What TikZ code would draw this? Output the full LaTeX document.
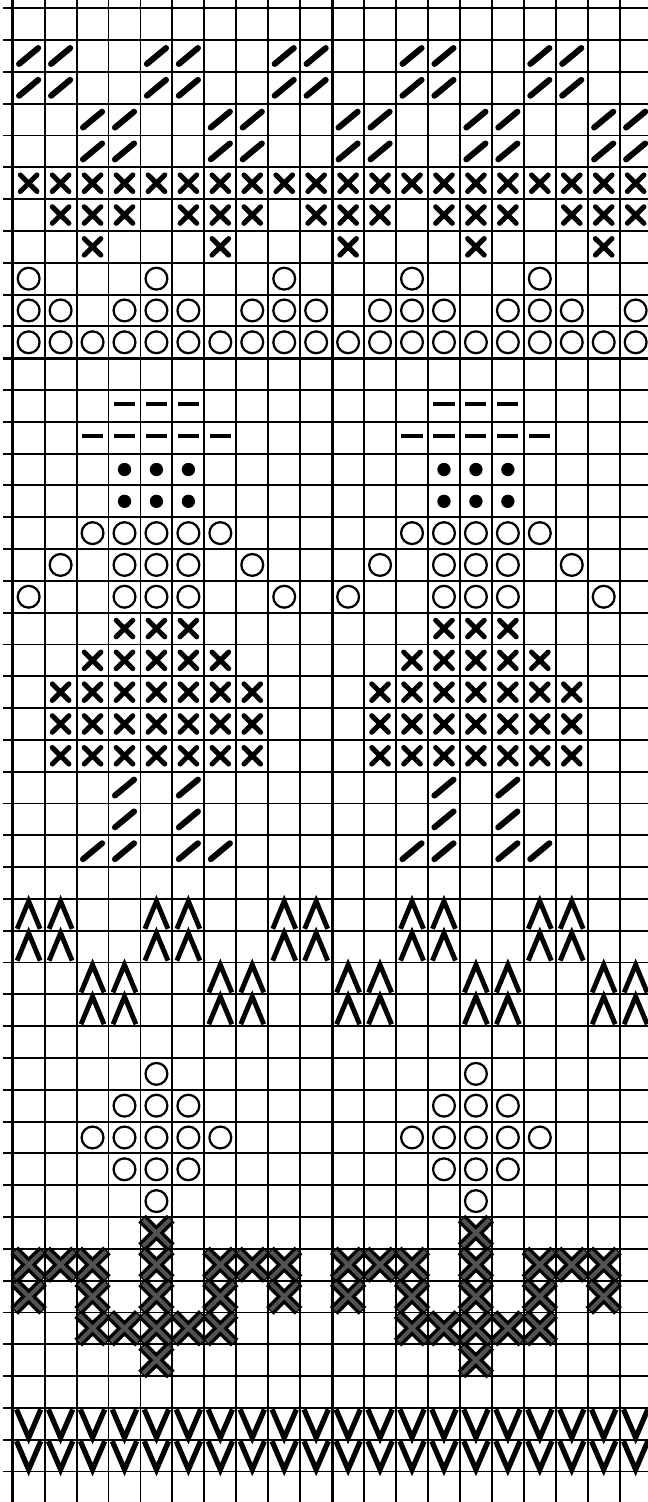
\documentclass[tikz,border=0pt]{standalone}
\tikzset{gl/.style={line width=1pt},bl/.style={line width=1.5pt},
sl/.pic={\draw[line width=3.2pt,line cap=round](0.2,0.25)--(0.8,0.75);},
xs/.pic={\draw[line width=2.7pt,line cap=round](0.24,0.24)--(0.76,0.76)(0.24,0.76)--(0.76,0.24);},
hx/.pic={\draw[line width=5.8pt](0.05,0.05)--(0.95,0.95)(0.05,0.95)--(0.95,0.05);\draw[line width=2.2pt,black!68](0.08,0.08)--(0.92,0.92)(0.08,0.92)--(0.92,0.08);},
oc/.pic={\draw[line width=1.2pt](0.5,0.5)circle[radius=0.205cm];},
dt/.pic={\fill(0.5,0.5)circle[radius=0.125cm];},
ds/.pic={\draw[line width=2.2pt](0.17,0.55)--(0.83,0.55);},
up/.pic={\draw[line width=2.6pt](0.14,0.06)--(0.5,0.93)--(0.86,0.06);},
dn/.pic={\draw[line width=2.8pt](0.12,0.95)--(0.5,0.06)--(0.88,0.95);}}
\newcommand\putst[3]{\pic at({#2},{-(#3)-1}){#1};}
\begin{document}
\begin{tikzpicture}[x=0.6cm,y=0.5974cm]
\useasboundingbox(-0.397,0.261)rectangle(19.885,-46.96);
\fill[white](-0.397,0.261)rectangle(19.885,-46.96);
\clip(-0.397,0.261)rectangle(19.885,-46.96);
\foreach\c in{0,...,20}\draw[gl](\c,0.3)--(\c,-47);
\foreach\r in{0,...,47}\draw[gl](-0.3,-\r)--(20.5,-\r);
\draw[bl](0,0.3)--(0,-47);\draw[bl](10,0.3)--(10,-47);\draw[bl](-0.3,-11)--(20.5,-11);
\foreach\k in{0,4,...,16}{
 \foreach\r in{1,2}{\putst{sl}{\k}{\r}\putst{sl}{\k+1}{\r}\putst{sl}{\k+2}{\r+2}\putst{sl}{\k+3}{\r+2}
  \putst{up}{\k}{\r+27}\putst{up}{\k+1}{\r+27}\putst{up}{\k+2}{\r+29}\putst{up}{\k+3}{\r+29}}
 \putst{xs}{\k+1}{6}\putst{xs}{\k+2}{6}\putst{xs}{\k+3}{6}\putst{xs}{\k+2}{7}
 \putst{oc}{\k}{8}\putst{oc}{\k}{9}\putst{oc}{\k+1}{9}\putst{oc}{\k+3}{9}}
\foreach\c in{0,...,19}{\putst{xs}{\c}{5}\putst{oc}{\c}{10}\putst{dn}{\c}{44}\putst{dn}{\c}{45}}
\foreach\o in{0,10}{
 \foreach\c in{3,4,5}{\putst{ds}{\o+\c}{12}\putst{dt}{\o+\c}{14}\putst{dt}{\o+\c}{15}\putst{oc}{\o+\c}{17}
  \putst{oc}{\o+\c}{18}\putst{xs}{\o+\c}{19}\putst{oc}{\o+\c}{34}\putst{oc}{\o+\c}{36}}
 \foreach\c in{2,...,6}{\putst{ds}{\o+\c}{13}\putst{oc}{\o+\c}{16}\putst{xs}{\o+\c}{20}\putst{oc}{\o+\c}{35}}
 \foreach\c in{1,...,7}{\putst{xs}{\o+\c}{21}\putst{xs}{\o+\c}{22}\putst{xs}{\o+\c}{23}}
 \foreach\c/\r in{1/17,7/17,0/18,8/18,4/33,4/37}{\putst{oc}{\o+\c}{\r}}
 \foreach\c/\r in{3/24,5/24,3/25,5/25,2/26,3/26,5/26,6/26}{\putst{sl}{\o+\c}{\r}}
 \foreach\c/\r in{4/38,0/39,1/39,2/39,4/39,6/39,7/39,8/39,0/40,2/40,4/40,6/40,8/40,2/41,3/41,4/41,5/41,6/41,4/42}{\putst{hx}{\o+\c}{\r}}}
\end{tikzpicture}
\end{document}
